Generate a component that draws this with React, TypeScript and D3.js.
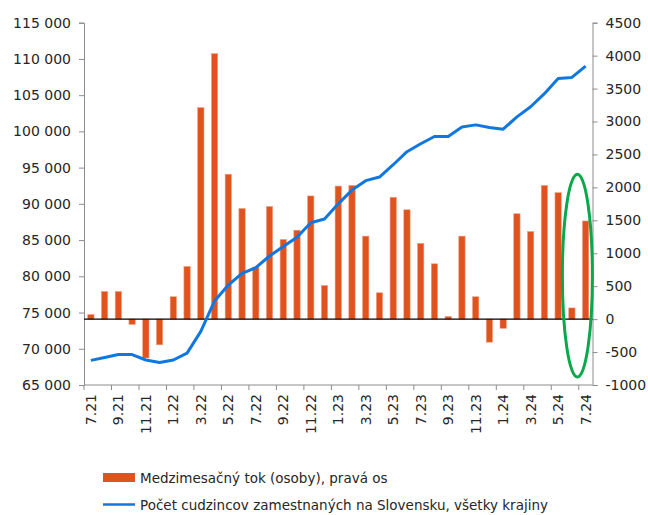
import { useEffect, useRef } from 'react';
import * as d3 from 'd3';

// months 7.21 .. 7.24
const months = [
  '7.21', '8.21', '9.21', '10.21', '11.21', '12.21',
  '1.22', '2.22', '3.22', '4.22', '5.22', '6.22', '7.22', '8.22', '9.22', '10.22', '11.22', '12.22',
  '1.23', '2.23', '3.23', '4.23', '5.23', '6.23', '7.23', '8.23', '9.23', '10.23', '11.23', '12.23',
  '1.24', '2.24', '3.24', '4.24', '5.24', '6.24', '7.24',
];

// medzimesačný tok (pravá os)
const flow = [
  70, 420, 420, -80, -590, -390,
  340, 800, 3210, 4030, 2200, 1680, 790, 1710, 1210, 1350, 1870, 510,
  2020, 2030, 1260, 400, 1850, 1660, 1150, 840, 40, 1260, 340, -350,
  -140, 1600, 1330, 2030, 1920, 170, 1490,
];

// počet cudzincov (ľavá os)
const employed = [
  68400, 68800, 69200, 69200, 68450, 68100,
  68450, 69400, 72400, 76600, 78800, 80400, 81200, 82800, 84100, 85400, 87400, 87900,
  90000, 91900, 93200, 93700, 95400, 97200, 98300, 99300, 99300, 100600, 100900, 100550,
  100300, 102000, 103400, 105200, 107300, 107450, 109000,
];

const leftTicks = [65000, 70000, 75000, 80000, 85000, 90000, 95000, 100000, 105000, 110000, 115000];
const rightTicks = [-1000, -500, 0, 500, 1000, 1500, 2000, 2500, 3000, 3500, 4000, 4500];

const legendLabels = [
  'Medzimesačný tok (osoby), pravá os',
  'Počet cudzincov zamestnaných na Slovensku, všetky krajiny',
];

const ORANGE = '#e0521e';
const BLUE = '#0f78e0';
const FONT = 'DejaVu Sans, Verdana, sans-serif';

export default function App() {
  const svgRef = useRef<SVGSVGElement>(null);

  useEffect(() => {
    if (!svgRef.current) return;
    const svg = d3.select(svgRef.current);
    svg.selectAll('*').remove();

    const left = 84, right = 592.5, top = 22.7, bottom = 385;

    const x = d3.scaleBand<string>().domain(months).range([left, right]).padding(0);
    const yL = d3.scaleLinear().domain([65000, 115000]).range([bottom, top]);
    const yR = d3.scaleLinear().domain([-1000, 4500]).range([bottom, top]);

    const sk = d3.formatLocale({ thousands: ' ', grouping: [3], decimal: ',', currency: ['', ''] });
    const fmt = sk.format(',');

    // ľavá os
    const gL = svg.append('g')
      .attr('transform', `translate(${left},0)`)
      .call(d3.axisLeft(yL).tickValues(leftTicks).tickFormat(d => fmt(d as number)).tickSize(5).tickPadding(8));
    // pravá os
    const gR = svg.append('g')
      .attr('transform', `translate(${right},0)`)
      .call(d3.axisRight(yR).tickValues(rightTicks).tickFormat(d => String(d)).tickSize(5).tickPadding(8));

    [gL, gR].forEach(g => {
      g.select('.domain').attr('stroke', '#8c8c8c');
      g.selectAll('.tick line').attr('stroke', '#8c8c8c');
      g.selectAll('.tick text')
        .attr('fill', '#262626')
        .attr('font-family', FONT)
        .attr('font-size', 14);
    });

    // x os
    const bw = x.bandwidth();
    svg.append('line')
      .attr('x1', left).attr('x2', right)
      .attr('y1', bottom).attr('y2', bottom)
      .attr('stroke', '#8c8c8c');
    months.forEach((m, i) => {
      if (i % 2 !== 0) return;
      const x0 = x(m)!;
      svg.append('line')
        .attr('x1', x0).attr('x2', x0)
        .attr('y1', bottom).attr('y2', bottom + 5)
        .attr('stroke', '#8c8c8c');
      svg.append('text')
        .attr('transform', `translate(${x0 + bw / 2 + 5},${bottom + 9}) rotate(-90)`)
        .attr('text-anchor', 'end')
        .attr('fill', '#262626')
        .attr('font-family', FONT)
        .attr('font-size', 14)
        .text(m);
    });

    // stĺpce
    const barW = bw * 0.46;
    svg.append('g')
      .selectAll('rect')
      .data(flow)
      .join('rect')
      .attr('x', (_, i) => x(months[i])! + (bw - barW) / 2)
      .attr('y', d => yR(Math.max(0, d)))
      .attr('width', barW)
      .attr('height', d => Math.abs(yR(d) - yR(0)))
      .attr('fill', ORANGE)
      .attr('stroke', '#f0a080')
      .attr('stroke-width', 0.6);

    // nulová čiara
    svg.append('line')
      .attr('x1', left).attr('x2', right)
      .attr('y1', yR(0)).attr('y2', yR(0))
      .attr('stroke', '#000')
      .attr('stroke-width', 1.2);

    // krivka
    const line = d3.line<number>()
      .x((_, i) => x(months[i])! + bw / 2)
      .y(d => yL(d));
    svg.append('path')
      .datum(employed)
      .attr('d', line)
      .attr('fill', 'none')
      .attr('stroke', BLUE)
      .attr('stroke-width', 3)
      .attr('stroke-linejoin', 'round');

    // zelená elipsa
    const last = months[months.length - 1];
    svg.append('ellipse')
      .attr('cx', x(last)! - bw * 0.1)
      .attr('cy', (yR(2200) + yR(-880)) / 2)
      .attr('rx', 15)
      .attr('ry', (yR(-880) - yR(2200)) / 2)
      .attr('fill', 'none')
      .attr('stroke', '#0aa84a')
      .attr('stroke-width', 3);

    // legenda
    const lg = svg.append('g').attr('font-family', FONT).attr('font-size', 13.5).attr('fill', '#262626');
    lg.append('rect').attr('x', 103).attr('y', 473).attr('width', 32).attr('height', 9).attr('fill', ORANGE);
    lg.append('text').attr('x', 140).attr('y', 483).text(legendLabels[0]);
    lg.append('line').attr('x1', 103).attr('x2', 135).attr('y1', 504.5).attr('y2', 504.5)
      .attr('stroke', BLUE).attr('stroke-width', 2.5);
    lg.append('text').attr('x', 140).attr('y', 510).text(legendLabels[1]);
  }, []);

  return (
    <svg
      ref={svgRef}
      width={648}
      height={515}
      style={{ position: 'absolute', left: 0, top: 0, background: '#fff' }}
    />
  );
}
